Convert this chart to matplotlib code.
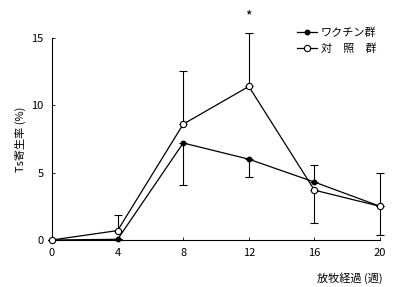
import numpy as np
import matplotlib.pyplot as plt
from matplotlib.lines import Line2D

plt.rcParams['font.family'] = ['Noto Sans CJK JP', 'DejaVu Sans']
plt.rcParams.update({'font.size': 8})

#==============================================================================
# data
#==============================================================================
weeks = [0, 4, 8, 12, 16, 20]
xtick_labels = ['0', '4', '8', '12', '16', '20']

vaccine = [0.0, 0.05, 7.2, 6.0, 4.3, 2.5]
vaccine_err_lo = [0.0, 0.0, 3.1, 1.3, 0.0, 0.0]
vaccine_err_hi = [0.0, 0.0, 0.0, 0.0, 1.3, 0.0]

control = [0.0, 0.7, 8.6, 11.4, 3.7, 2.5]
control_err_lo = [0.0, 0.0, 0.0, 0.0, 2.45, 2.1]
control_err_hi = [0.0, 1.15, 3.95, 4.0, 0.0, 2.5]

#==============================================================================
# PLOTTING
#==============================================================================
fig = plt.figure(figsize=(3.93, 2.87), dpi=100)
ax = fig.add_axes([0.1323, 0.1638, 0.8347, 0.704])

ax.errorbar(weeks, vaccine, yerr=[vaccine_err_lo, vaccine_err_hi],
            color='k', lw=0.9, marker='o', ms=3.2, mfc='k', mec='k',
            capsize=3, elinewidth=0.8, capthick=0.8, clip_on=False,
            zorder=3)
ax.errorbar(weeks, control, yerr=[control_err_lo, control_err_hi],
            color='k', lw=0.9, marker='o', ms=4.5, mfc='white', mec='k',
            mew=0.8, capsize=3, elinewidth=0.8, capthick=0.8, clip_on=False,
            zorder=4)

ax.text(12, 16.6, '*', ha='center', va='center', fontsize=10)

ax.set_xlim(0, 20)
ax.set_ylim(0, 15)
ax.set_xticks(weeks)
ax.set_xticklabels(xtick_labels)
ax.set_yticks([0, 5, 10, 15])
ax.tick_params(direction='in', length=2, width=0.6, pad=6)
for s in ['top', 'right']:
    ax.spines[s].set_visible(False)
for s in ['left', 'bottom']:
    ax.spines[s].set_linewidth(0.8)

ax.set_ylabel('Ts寄生率 (%)', fontsize=8, labelpad=4)
fig.text(0.89, 0.03, '放牧経過 (週)', ha='center', va='center', fontsize=8)

handles = [Line2D([], [], color='k', lw=0.9, marker='o', ms=3.2, mfc='k'),
           Line2D([], [], color='k', lw=0.9, marker='o', ms=4.5, mfc='white',
                  mew=0.8)]
leg = ax.legend(handles, ['ワクチン群', '対　照　群'], loc='upper right',
                bbox_to_anchor=(1.02, 1.1), frameon=False,
                handlelength=1.8, handletextpad=0.4, labelspacing=0.45,
                fontsize=8)

plt.savefig('out.png', dpi=100)
